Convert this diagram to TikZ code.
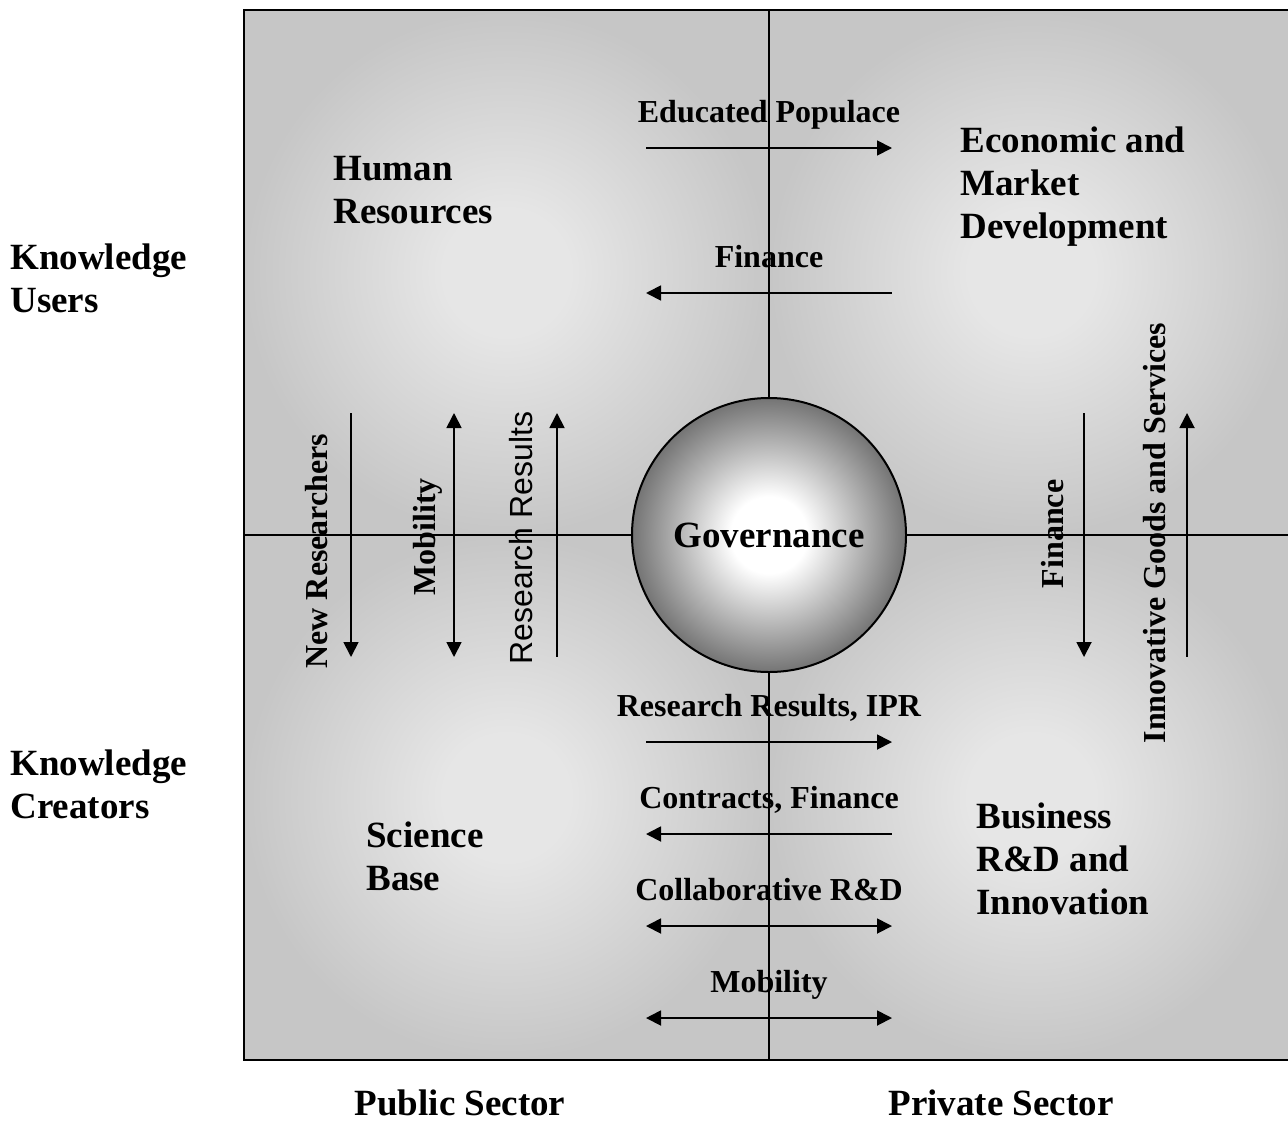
\documentclass[tikz,border=0pt]{standalone}
\usepackage{fontspec}
\setmainfont{Liberation Serif}
\newfontfamily\arialfont{Liberation Sans}
\usetikzlibrary{arrows.meta}

\definecolor{quadlight}{RGB}{230,230,230}
\definecolor{quaddark}{RGB}{198,198,198}
\definecolor{govrim}{RGB}{116,116,116}
% soft glow for each quadrant and for the centre ball
\pgfdeclareradialshading{quadglow}{\pgfpoint{0bp}{0bp}}{color(0bp)=(quadlight); color(6bp)=(quadlight); color(25bp)=(quaddark); color(50bp)=(quaddark)}
\pgfdeclareradialshading{govglow}{\pgfpoint{0bp}{0bp}}{color(0bp)=(white); color(7bp)=(white); color(25bp)=(govrim); color(50bp)=(govrim)}

\begin{document}
\begin{tikzpicture}[x=0.5pt,y=-0.5pt,>={Triangle[length=7.5pt,width=7.5pt]},
  flow/.style={line width=0.9pt},
  quadlabel/.style={anchor=base west,align=left,inner sep=0pt,font=\bfseries\fontsize{18.5}{21.5}\selectfont},
  flowlabel/.style={anchor=base,inner sep=0pt,font=\bfseries\fontsize{16}{19}\selectfont},
  vlabel/.style={flowlabel,rotate=90}]
\useasboundingbox (0,0) rectangle (1288,1124);

% quadrants
\shade[shading=quadglow] (244,10) rectangle (769,535);
\shade[shading=quadglow] (769,10) rectangle (1294,535);
\shade[shading=quadglow] (244,535) rectangle (769,1060);
\shade[shading=quadglow] (769,535) rectangle (1294,1060);
\draw[line width=1pt] (244,10) rectangle (1294,1060);
\draw[line width=1pt] (769,10) -- (769,1060);
\draw[line width=1pt] (244,535) -- (1294,535);

\node[circle,draw,line width=1pt,minimum size=137pt,inner sep=0pt,shade,shading=govglow,
  font=\bfseries\fontsize{18.5}{22}\selectfont] (gov) at (769,535) {Governance};

% flows across the public/private divide
\foreach \y/\lab/\tip [count=\i] in {148/Educated Populace/->,293/Finance/<-,
    742/{Research Results, IPR}/->,834/{Contracts, Finance}/<-,
    926/Collaborative R\&D/<->,1018/Mobility/<->}{
  \coordinate (hw\i) at (646,\y);
  \coordinate (he\i) at (892,\y);
  \draw[flow,\tip] (hw\i) -- (he\i);
  \node[flowlabel] (hl\i) at (769,\y-26) {\lab};
}

% flows between users and creators
\foreach \x/\tip [count=\i] in {351/->,454/<->,557/<-,1084/->,1187/<-}{
  \coordinate (vt\i) at (\x,413);
  \coordinate (vb\i) at (\x,657);
  \draw[flow,\tip] (vt\i) -- (vb\i);
}
\node[vlabel] (newres) at (327,551) {New Researchers};
\node[vlabel] (mobv) at (435,537) {Mobility};
\node[vlabel,font=\arialfont\fontsize{16}{19}\selectfont] (resres) at (532,538) {Research Results};
\node[vlabel] (finv) at (1063,534) {Finance};
\node[vlabel] (goods) at (1165,533) {Innovative Goods and Services};

% quadrant names (base = last line)
\node[quadlabel] (human) at (333,223) {Human\\Resources};
\node[quadlabel] (market) at (960,238) {Economic and\\Market\\Development};
\node[quadlabel] (science) at (366,890) {Science\\Base};
\node[quadlabel] (business) at (976,914) {Business\\R\&D and\\Innovation};

% axes
\node[quadlabel] (users) at (10,312) {Knowledge\\Users};
\node[quadlabel] (creators) at (10,818) {Knowledge\\Creators};
\node[quadlabel,anchor=base] (public) at (460,1115) {Public Sector};
\node[quadlabel,anchor=base] (private) at (1001,1115) {Private Sector};
\end{tikzpicture}
\end{document}
